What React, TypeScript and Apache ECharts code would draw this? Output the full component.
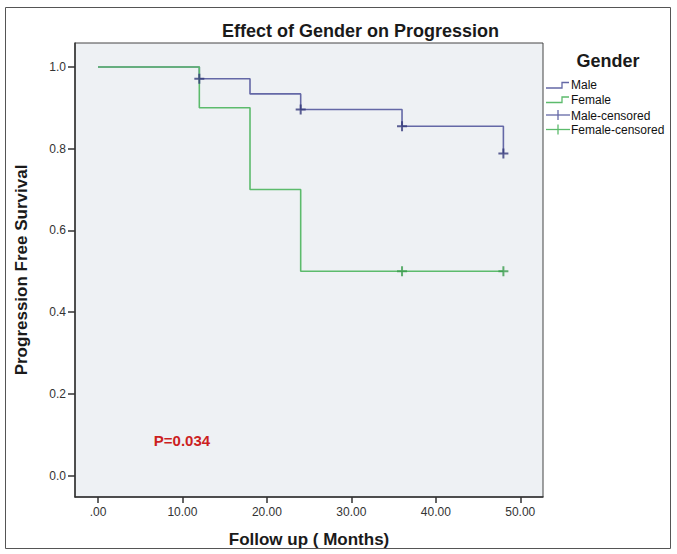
import React, { useEffect, useRef } from "react";
import * as echarts from "echarts";

const maleTimes = [0, 12, 18, 24, 36, 48];
const maleSurvival = [1.0, 0.971, 0.934, 0.896, 0.855, 0.788];
const femaleTimes = [0, 12, 18, 24, 48];
const femaleSurvival = [1.0, 0.9, 0.7, 0.5, 0.5];
const maleCensoredTimes = [12, 24, 36, 48];
const maleCensoredSurvival = [0.971, 0.896, 0.855, 0.788];
const femaleCensoredTimes = [36, 48];
const femaleCensoredSurvival = [0.5, 0.5];
const xTicks = [0, 10, 20, 30, 40, 50];
const yTicks = [0, 0.2, 0.4, 0.6, 0.8, 1.0];
const legendNames = ["Male", "Female", "Male-censored", "Female-censored"];

const FONT = "'Liberation Sans', Arial, Helvetica, sans-serif";
const BLUE = "#6468a6";
const BLUE_DARK = "#34397a";
const GREEN = "#5cbb6c";
const GREEN_DARK = "#3a9c4c";
const PLUS = "path://M4,0 L6,0 L6,4 L10,4 L10,6 L6,6 L6,10 L4,10 L4,6 L0,6 L0,4 L4,4 Z";
const X_MIN = -2.72;
const X_MAX = 52.69;
const Y_MIN = -0.0525;
const Y_MAX = 1.0586;

export default function App() {
  const ref = useRef<HTMLDivElement>(null);
  useEffect(() => {
    if (!ref.current) return;
    const chart = echarts.init(ref.current, null, { renderer: "svg" });
    const zip = (xs: number[], ys: number[]) => xs.map((x, i) => [x, ys[i]]);
    const legendText = (y: number, t: string) => ({
      type: "text",
      x: 571,
      y,
      style: { text: t, fontSize: 12, fontFamily: FONT, fill: "#111", verticalAlign: "middle", align: "left" },
    });
    const option: any = {
      animation: false,
      backgroundColor: "#ffffff",
      title: {
        text: "Effect of Gender on Progression",
        left: 222,
        top: 22,
        padding: 0,
        textStyle: { fontSize: 18, fontWeight: "bold", color: "#1a1a1a", fontFamily: FONT },
      },
      grid: {
        left: 75,
        right: 134,
        top: 43,
        bottom: 57,
        show: true,
        backgroundColor: "#eef1f4",
        borderColor: "#444",
        borderWidth: 1,
      },
      xAxis: {
        type: "value",
        min: X_MIN,
        max: X_MAX,
        name: "Follow up ( Months)",
        nameLocation: "middle",
        nameGap: 34,
        nameTextStyle: { fontSize: 17, fontWeight: "bold", color: "#1a1a1a", fontFamily: FONT },
        axisLine: { show: true, onZero: false, lineStyle: { color: "#333", width: 1.5 } },
        axisTick: { show: true, inside: false, length: 6, customValues: xTicks, lineStyle: { color: "#333", width: 1.5 } },
        axisLabel: {
          customValues: xTicks,
          margin: 9,
          fontSize: 12,
          color: "#333",
          fontFamily: FONT,
          formatter: (v: number) => (v === 0 ? ".00" : v.toFixed(2)),
        },
        splitLine: { show: false },
      },
      yAxis: {
        type: "value",
        min: Y_MIN,
        max: Y_MAX,
        name: "Progression Free Survival",
        nameLocation: "middle",
        nameGap: 45,
        nameRotate: 90,
        nameTextStyle: { fontSize: 17, fontWeight: "bold", color: "#1a1a1a", fontFamily: FONT },
        axisLine: { show: true, onZero: false, lineStyle: { color: "#333", width: 1.5 } },
        axisTick: { show: true, length: 7, customValues: yTicks, lineStyle: { color: "#333", width: 1.5 } },
        axisLabel: {
          customValues: yTicks,
          margin: 9,
          fontSize: 12,
          color: "#333",
          fontFamily: FONT,
          formatter: (v: number) => v.toFixed(1),
        },
        splitLine: { show: false },
      },
      series: [
        {
          name: legendNames[0],
          type: "line",
          step: "end",
          data: zip(maleTimes, maleSurvival),
          showSymbol: false,
          lineStyle: { color: BLUE, width: 1.6 },
          itemStyle: { color: BLUE },
          z: 2,
        },
        {
          name: legendNames[1],
          type: "line",
          step: "end",
          data: zip(femaleTimes, femaleSurvival),
          showSymbol: false,
          lineStyle: { color: GREEN, width: 1.6 },
          itemStyle: { color: GREEN },
          z: 5,
        },
        {
          name: legendNames[2],
          type: "scatter",
          data: zip(maleCensoredTimes, maleCensoredSurvival),
          symbol: PLUS,
          symbolSize: 10,
          itemStyle: { color: BLUE_DARK },
          z: 6,
        },
        {
          name: legendNames[3],
          type: "scatter",
          data: zip(femaleCensoredTimes, femaleCensoredSurvival),
          symbol: PLUS,
          symbolSize: 10,
          itemStyle: { color: GREEN_DARK },
          z: 6,
        },
      ],
      graphic: [
        {
          type: "rect",
          shape: { x: 5.5, y: 7.5, width: 665, height: 541 },
          style: { fill: "none", stroke: "#555", lineWidth: 1 },
          z: -10,
        },
        {
          type: "text",
          x: 608,
          y: 61,
          style: { text: "Gender", fontSize: 18, fontWeight: "bold", fontFamily: FONT, fill: "#1a1a1a", align: "center", verticalAlign: "middle" },
        },
        {
          type: "polyline",
          shape: { points: [[546, 88], [562, 88], [562, 82.5], [569, 82.5]] },
          style: { stroke: BLUE, lineWidth: 1.3, fill: "none" },
        },
        legendText(85, legendNames[0]),
        {
          type: "polyline",
          shape: { points: [[546, 102.5], [562, 102.5], [562, 97], [569, 97]] },
          style: { stroke: GREEN, lineWidth: 1.3, fill: "none" },
        },
        legendText(100, legendNames[1]),
        {
          type: "line",
          shape: { x1: 546, y1: 115, x2: 570, y2: 115 },
          style: { stroke: BLUE, lineWidth: 1.3 },
        },
        {
          type: "line",
          shape: { x1: 558, y1: 110, x2: 558, y2: 120 },
          style: { stroke: BLUE, lineWidth: 1.3 },
        },
        legendText(115.5, legendNames[2]),
        {
          type: "line",
          shape: { x1: 546, y1: 129.5, x2: 570, y2: 129.5 },
          style: { stroke: GREEN, lineWidth: 1.3 },
        },
        {
          type: "line",
          shape: { x1: 558, y1: 124.5, x2: 558, y2: 134.5 },
          style: { stroke: GREEN, lineWidth: 1.3 },
        },
        legendText(130, legendNames[3]),
        {
          type: "text",
          x: 182,
          y: 440,
          style: { text: "P=0.034", fontSize: 15, fontWeight: "bold", fontFamily: FONT, fill: "#cc1f1f", align: "center", verticalAlign: "middle" },
        },
      ],
    };
    chart.setOption(option);
    return () => chart.dispose();
  }, []);
  return (
    <div
      ref={ref}
      style={{ position: "absolute", left: 0, top: 0, width: 677, height: 554 }}
    />
  );
}
